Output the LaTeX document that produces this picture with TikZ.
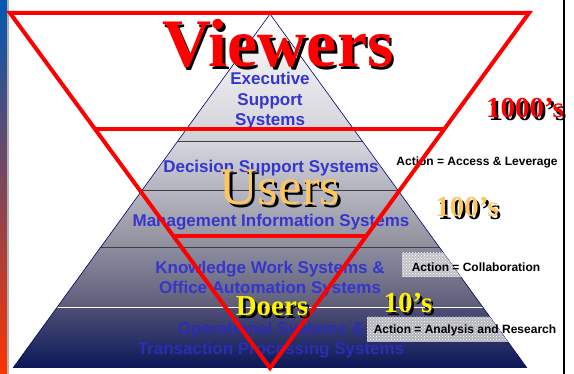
\documentclass[tikz,border=0pt]{standalone}
\usepackage{fontspec}
\setmainfont{Liberation Serif}
\setsansfont{Liberation Sans}
\usetikzlibrary{calc}
\usetikzlibrary{patterns}
\definecolor{layerblue}{HTML}{3636CC}
\definecolor{deepblue}{HTML}{2C2CB4}
\definecolor{gold}{HTML}{FCC75E}
\definecolor{navy}{HTML}{0A1858}
\definecolor{essTop}{HTML}{FFFFFF}
\definecolor{essBot}{HTML}{D0D0D8}
\definecolor{dssTop}{HTML}{D6D6DE}
\definecolor{dssBot}{HTML}{B2B2BE}
\definecolor{misTop}{HTML}{B6B6C2}
\definecolor{misBot}{HTML}{8E8E9C}
\definecolor{kwsTop}{HTML}{8C8CA0}
\definecolor{kwsBot}{HTML}{5C5C78}
\definecolor{opsTop}{HTML}{4E4E76}
\tikzset{
  layer text/.style={font=\sffamily\bfseries\fontsize{17}{20.5}\selectfont,text=layerblue,align=center,inner sep=0pt},
  action text/.style={font=\sffamily\bfseries\fontsize{12}{13}\selectfont,text=black,inner sep=0pt},
  action box/.style={fill=gray!35!white,fill opacity=0.8},
  big label/.style={inner sep=0pt,anchor=base},
  red line/.style={draw=red,line width=4pt,line join=miter},
  step line/.style={draw=#1,line width=1pt}
}
\newcommand{\shadowlabel}[5]{% name, position, colour, font, text
  \node[big label,text=black,font=#4] at ($(#2)+(2.5,2.5)$) {#5};
  \node[big label,text=#3,font=#4] (#1) at (#2) {#5};}

\begin{document}
\begin{tikzpicture}[x=1pt,y=-1pt]
\useasboundingbox (0,0) rectangle (574,374);
% left photo strip and frame lines
\shade[top color=blue!50!cyan!70!black,middle color=yellow!50!orange,bottom color=red!60!orange] (0,0) rectangle (7,374);
\draw[gray!60,line width=1.5pt] (8,0) -- (8,374);
\draw[black,line width=1.5pt] (564,0) -- (564,374);

% pyramid
\coordinate (apex) at (270,14);
\coordinate (baseL) at (13,368);
\coordinate (baseR) at (527,368);
\foreach \ta/\tb/\ctop/\cbot in {0/0.3588/essTop/essBot,
    0.3588/0.5/dssTop/dssBot,
    0.5/0.661/misTop/misBot,
    0.661/0.8305/kwsTop/kwsBot,
    0.8305/1/opsTop/navy}
  \shade[top color=\ctop,bottom color=\cbot] ($(apex)!\ta!(baseL)$) -- ($(apex)!\tb!(baseL)$)
    -- ($(apex)!\tb!(baseR)$) -- ($(apex)!\ta!(baseR)$) -- cycle;
\foreach \t/\c in {0.3588/black!75, 0.5/black!75, 0.661/black!75, 0.8305/white}
  \draw[step line=\c] ($(apex)!\t!(baseL)$) -- ($(apex)!\t!(baseR)$);
\draw[blue!40!black,line width=0.6pt] (baseL) -- (apex) -- (baseR);

% action boxes, cut by the pyramid side
\begin{scope}
  \clip (apex) -- (baseL) -- (baseR) -- cycle;
  \fill[action box] (402,253) rectangle (560,277);
  \fill[pattern=crosshatch dots,pattern color=white] (402,253) rectangle (560,277);
  \fill[action box] (367,317) rectangle (560,342);
  \fill[pattern=crosshatch dots,pattern color=white] (367,317) rectangle (560,342);
\end{scope}

% layer names
\node[layer text] (ess) at (270,101) {Executive\\Support\\Systems};
\node[layer text] (dss) at (271,168) {Decision Support Systems};
\node[layer text] (mis) at (271,222) {Management Information Systems};
\node[layer text] (kws) at (270,279) {Knowledge Work Systems \&\\Office Automation Systems};
\node[layer text,text=deepblue] (ops) at (271,340) {Operational Systems \&\\Transaction Processing Systems};

% actions
\node[action text] (leverage) at (477,162) {Action = Access \& Leverage};
\node[action text] (collab) at (476,267) {Action = Collaboration};
\node[action text] (analysis) at (465,330) {Action = Analysis and Research};

% user triangle
\coordinate (redTL) at (10,13);
\coordinate (redTR) at (529,13);
\coordinate (redBot) at (270,368);
\draw[red line] (redTL) -- (redTR) -- (redBot) -- cycle;
\draw[red line] ($(redTL)!0.3268!(redBot)$) -- ($(redTR)!0.3268!(redBot)$);
\draw[red line] ($(redTL)!0.628!(redBot)$) -- ($(redTR)!0.628!(redBot)$);

% user groups and counts
\coordinate (viewersPos) at (278,67);
\coordinate (thousandPos) at (525,118);
\coordinate (usersPos) at (280,205);
\coordinate (hundredPos) at (467,217);
\coordinate (doersPos) at (272,316);
\coordinate (tenPos) at (408,313);
\shadowlabel{viewers}{viewersPos}{red}{\rmfamily\bfseries\fontsize{68}{70}\selectfont}{Viewers}
\shadowlabel{thousand}{thousandPos}{red}{\rmfamily\bfseries\fontsize{29}{30}\selectfont}{1000’s}
\shadowlabel{users}{usersPos}{gold}{\rmfamily\fontsize{53}{55}\selectfont}{Users}
\shadowlabel{hundred}{hundredPos}{gold}{\rmfamily\bfseries\fontsize{29}{30}\selectfont}{100’s}
\shadowlabel{doers}{doersPos}{yellow}{\rmfamily\bfseries\fontsize{29}{30}\selectfont}{Doers}
\shadowlabel{ten}{tenPos}{yellow}{\rmfamily\bfseries\fontsize{29}{30}\selectfont}{10’s}
\end{tikzpicture}
\end{document}
